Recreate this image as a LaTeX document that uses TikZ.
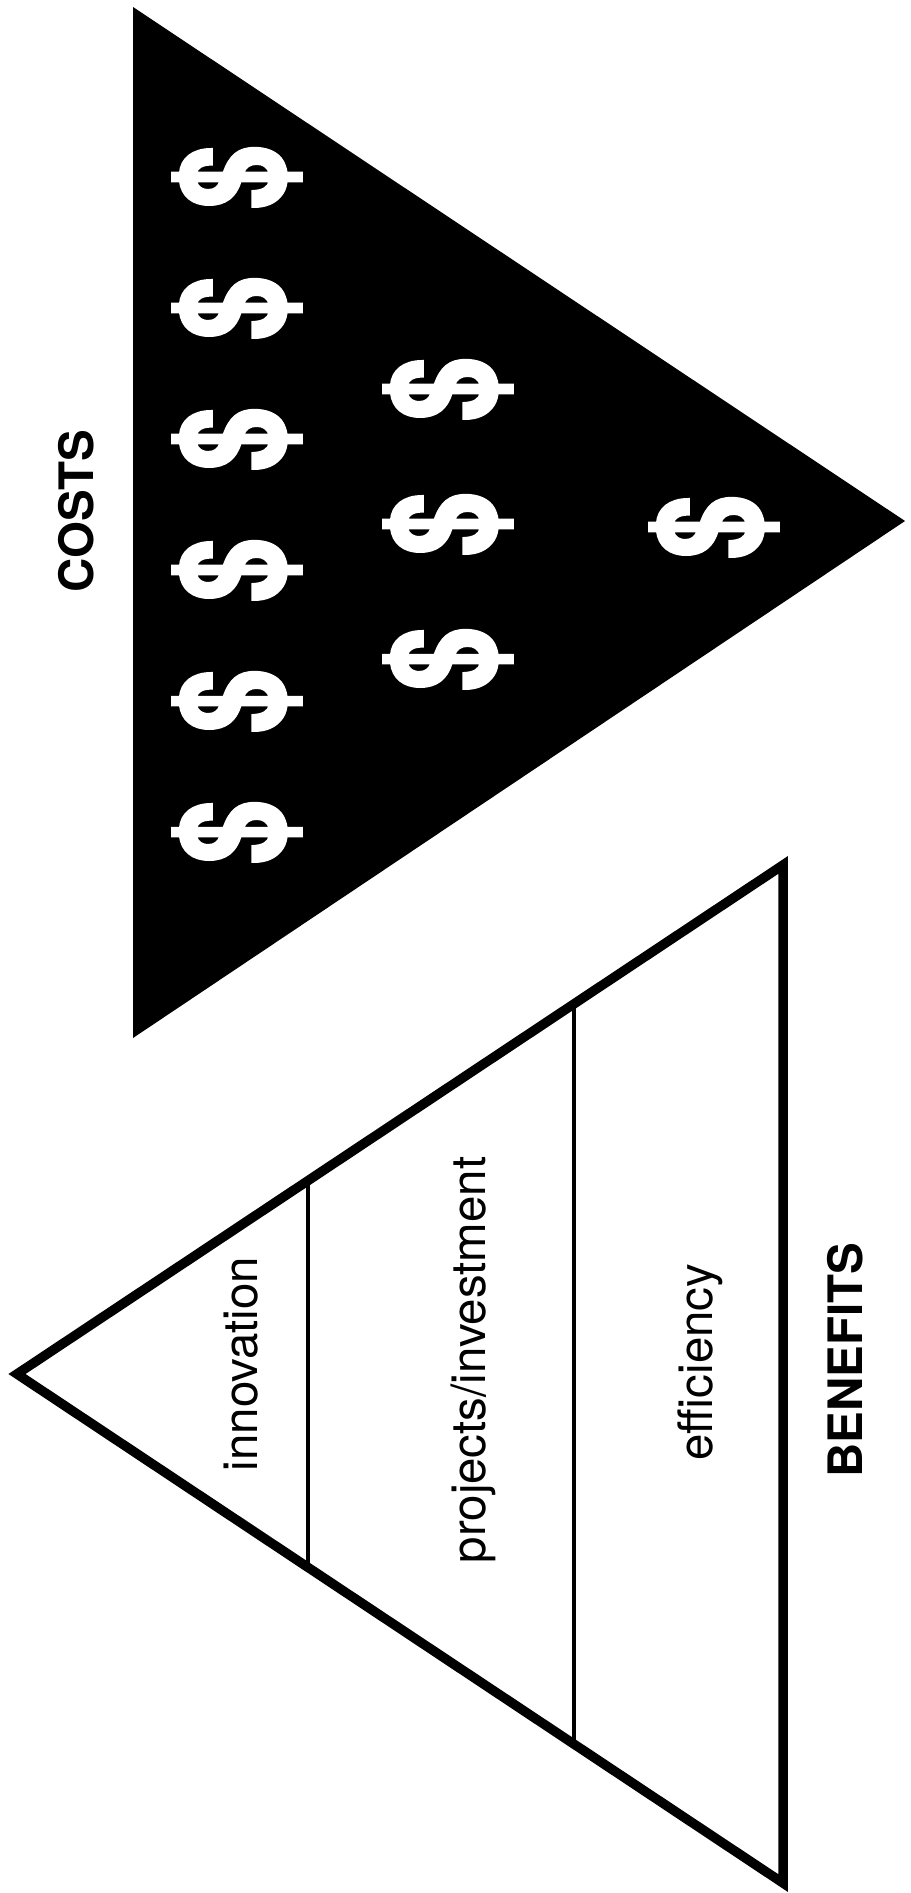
\documentclass[tikz,border=0pt]{standalone}
\usepackage{fontspec}
\setmainfont{TeX Gyre Heros}
\newfontfamily\dollarfont[BoldFeatures={FakeBold=2.5}]{TeX Gyre Heros}
\usepackage{tikz}
\usetikzlibrary{calc}

\begin{document}
\begin{tikzpicture}[
    x=0.1mm, y=-0.1mm,
    outline/.style={draw, line width=2.7pt, line join=miter},
    divider/.style={draw, line width=1.1pt},
    lbl/.style={rotate=90, anchor=base, inner sep=0pt, font=\fontsize{13.5}{16}\selectfont},
    heading/.style={lbl, font=\fontsize{13.5}{16}\selectfont\bfseries},
    dollar/.style={rotate=90, text=white, inner sep=0pt, font=\fontsize{41}{41}\dollarfont\bfseries}
]
\useasboundingbox (0,0) rectangle (910,1893);

% --- Costs: black triangle with dollar signs ---
\coordinate (ctop) at (133,7);
\coordinate (cbot) at (133,1038);
\coordinate (capex) at (905,521);
\fill[black] (ctop) -- (capex) -- (cbot) -- cycle;

\foreach \y [count=\i] in {177,308,439,570,701,832}
  \node[dollar] (dtop\i) at (237,\y) {\scalebox{0.8}[1]{\$}};
\foreach \y [count=\i] in {389,524,659}
  \node[dollar] (dmid\i) at (448,\y) {\scalebox{0.8}[1]{\$}};
\node[dollar] (dlow) at (714,527) {\scalebox{0.8}[1]{\$}};

\node[heading] (costs) at (93,511) {COSTS};

% --- Benefits: outlined triangle in three bands ---
\coordinate (apex) at (17,1374);
\coordinate (btop) at (783,865);
\coordinate (bbot) at (783,1883);

\path (apex) -- (btop) coordinate[pos=0.380] (d1top) coordinate[pos=0.727] (d2top);
\path (apex) -- (bbot) coordinate[pos=0.380] (d1bot) coordinate[pos=0.727] (d2bot);
\draw[divider] (d1top) -- (d1bot);
\draw[divider] (d2top) -- (d2bot);
\draw[outline] (apex) -- (btop) -- (bbot) -- cycle;

\node[lbl] (innov) at (257,1364) {innovation};
\node[lbl] (proj) at (485,1360) {projects/investment};
\node[lbl] (eff) at (712,1362) {efficiency};

\node[heading] (benefits) at (862,1360) {BENEFITS};

\end{tikzpicture}
\end{document}
